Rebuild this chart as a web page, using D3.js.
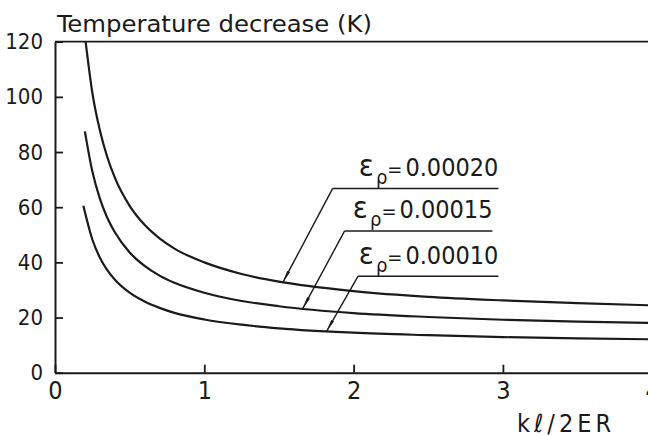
<!DOCTYPE html>
<html>
<head>
<meta charset="utf-8">
<script src="https://cdn.jsdelivr.net/npm/d3@7"></script>
<style>
  html, body { margin: 0; padding: 0; background: #fff; }
  svg { display: block; }
  text { font-family: "DejaVu Sans Condensed", "DejaVu Sans", sans-serif; font-stretch: condensed; fill: #1a1a1a; }
</style>
</head>
<body>
<svg id="chart" width="648" height="436"></svg>
<script>
// ---- data ----
const xTicks = [0, 1, 2, 3, 4];
const yTicks = [0, 20, 40, 60, 80, 100, 120];
const yTitle = "Temperature decrease (K)";
const xTitle = "kℓ/2ER";

const seriesNames = ["0.00020", "0.00015", "0.00010"];

const xEps20 = [0.205, 0.25, 0.30, 0.35, 0.40, 0.50, 0.60, 0.70, 0.80, 1.00, 1.25, 1.50, 2.00, 2.50, 3.00, 3.50, 4.00];
const yEps20 = [120, 101.5, 88.0, 78.2, 70.8, 60.5, 53.6, 48.7, 45.0, 40.0, 35.8, 33.0, 29.6, 27.5, 26.2, 25.2, 24.4];

const xEps15 = [0.20, 0.25, 0.30, 0.35, 0.40, 0.50, 0.60, 0.70, 0.80, 1.00, 1.25, 1.50, 2.00, 2.50, 3.00, 3.50, 4.00];
const yEps15 = [87.5, 73.0, 63.2, 56.2, 51.0, 43.6, 38.7, 35.2, 32.6, 29.0, 26.0, 24.1, 21.6, 20.2, 19.2, 18.5, 18.0];

const xEps10 = [0.19, 0.25, 0.30, 0.35, 0.40, 0.50, 0.60, 0.70, 0.80, 1.00, 1.25, 1.50, 2.00, 2.50, 3.00, 3.50, 4.00];
const yEps10 = [60.5, 48.3, 41.8, 37.2, 33.8, 29.0, 25.8, 23.5, 21.7, 19.3, 17.4, 16.1, 14.5, 13.6, 12.9, 12.45, 12.1];

// annotation anchors (data space): where each leader touches its curve, and its label shelf
const leaderX = [1.527, 1.66, 1.82];
const shelfY = [66.8, 51.4, 35.0];
const shelfX0 = [1.86, 1.94, 2.03];
const shelfX1 = [2.97, 2.93, 2.97];

// ---- chart ----
const svg = d3.select("#chart");
const ink = "#1a1a1a";

const x = d3.scaleLinear().domain([0, 4]).range([55, 652.2]);
const y = d3.scaleLinear().domain([0, 120]).range([372.7, 41.7]);

const series = [
  { name: seriesNames[0], xs: xEps20, ys: yEps20 },
  { name: seriesNames[1], xs: xEps15, ys: yEps15 },
  { name: seriesNames[2], xs: xEps10, ys: yEps10 }
];

// top frame line
svg.append("line")
  .attr("x1", x(0)).attr("x2", 648)
  .attr("y1", y(120)).attr("y2", y(120))
  .attr("stroke", ink).attr("stroke-width", 1.8);

// y axis
const yAxis = svg.append("g")
  .attr("transform", `translate(${x(0)},0)`)
  .call(d3.axisLeft(y).tickValues(yTicks).tickFormat(d3.format("d"))
        .tickSizeInner(-8).tickSizeOuter(0).tickPadding(12));
yAxis.selectAll("path.domain").attr("stroke", ink).attr("stroke-width", 2);
yAxis.selectAll(".tick line").attr("stroke", ink).attr("stroke-width", 1.8);
yAxis.selectAll(".tick text").attr("font-size", 22).attr("fill", ink)
  .style("font-family", '"DejaVu Sans Condensed", "DejaVu Sans", sans-serif');

// x axis
const xAxis = svg.append("g")
  .attr("transform", `translate(0,${y(0)})`)
  .call(d3.axisBottom(x).tickValues(xTicks).tickFormat(d3.format("d"))
        .tickSizeInner(-8).tickSizeOuter(0).tickPadding(9));
xAxis.selectAll("path.domain").attr("stroke", ink).attr("stroke-width", 2);
xAxis.selectAll(".tick line").attr("stroke", ink).attr("stroke-width", 1.8);
xAxis.selectAll(".tick text").attr("font-size", 25).attr("fill", ink)
  .style("font-family", '"DejaVu Sans Condensed", "DejaVu Sans", sans-serif');

// titles
svg.append("text")
  .attr("x", 57).attr("y", 31.5)
  .attr("font-size", 23)
  .attr("textLength", 315).attr("lengthAdjust", "spacingAndGlyphs")
  .text(yTitle);

svg.append("text")
  .attr("x", 517).attr("y", 431.5)
  .attr("font-size", 25)
  .attr("textLength", 94).attr("lengthAdjust", "spacing")
  .text(xTitle);

// curves
const line = d3.line()
  .x(d => x(d[0])).y(d => y(d[1]))
  .curve(d3.curveMonotoneX);

svg.append("g").selectAll("path")
  .data(series)
  .join("path")
  .attr("d", s => line(s.xs.map((v, i) => [v, s.ys[i]])))
  .attr("fill", "none")
  .attr("stroke", ink)
  .attr("stroke-width", 2.2);

// arrow marker
svg.append("defs").append("marker")
  .attr("id", "arrow")
  .attr("viewBox", "0 0 12 4")
  .attr("refX", 12).attr("refY", 2)
  .attr("markerWidth", 12).attr("markerHeight", 4)
  .attr("markerUnits", "userSpaceOnUse")
  .attr("orient", "auto")
  .append("path")
  .attr("d", "M0,0.4 L12,2 L0,3.6 Z")
  .attr("fill", ink);

function valueAt(s, xv) {
  for (let i = 1; i < s.xs.length; i++) {
    if (xv <= s.xs[i]) {
      const t = (xv - s.xs[i - 1]) / (s.xs[i] - s.xs[i - 1]);
      return s.ys[i - 1] + t * (s.ys[i] - s.ys[i - 1]);
    }
  }
  return s.ys[s.ys.length - 1];
}

const ann = svg.append("g");
series.forEach((s, i) => {
  const tx = leaderX[i], ty = valueAt(s, tx);
  // shelf
  ann.append("line")
    .attr("x1", x(shelfX0[i])).attr("x2", x(shelfX1[i]))
    .attr("y1", y(shelfY[i])).attr("y2", y(shelfY[i]))
    .attr("stroke", ink).attr("stroke-width", 1.5);
  // leader with arrow
  ann.append("line")
    .attr("x1", x(shelfX0[i])).attr("y1", y(shelfY[i]))
    .attr("x2", x(tx)).attr("y2", y(ty))
    .attr("stroke", ink).attr("stroke-width", 1.4)
    .attr("marker-end", "url(#arrow)");
  // label
  const t = ann.append("text")
    .attr("x", x(shelfX1[i])).attr("y", y(shelfY[i]) - 12.5)
    .attr("text-anchor", "end");
  t.append("tspan").attr("font-size", 31).text("ε");
  t.append("tspan").attr("font-size", 20).attr("dy", 8).attr("dx", 2).text("ρ");
  t.append("tspan").attr("font-size", 20).attr("dy", -8).text("=");
  t.append("tspan").attr("font-size", 25).attr("dx", 3).text(s.name);
});
</script>
</body>
</html>
